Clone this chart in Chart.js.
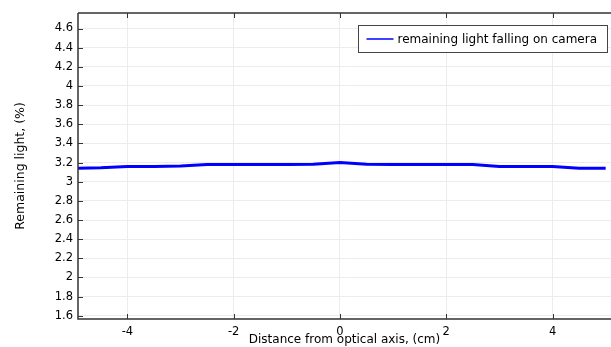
<!DOCTYPE html>
<html>
<head>
<meta charset="utf-8">
<script src="https://cdn.jsdelivr.net/npm/chart.js"></script>
<style>
  html, body { margin: 0; padding: 0; background: #fff; }
  canvas { display: block; }
</style>
</head>
<body>
<canvas id="lightChart" width="611" height="347"></canvas>
<script>
// distance from the optical axis (cm) and the share of light reaching the camera (%)
const distance = [-5, -4.5, -4, -3.5, -3, -2.5, -2, -1.5, -1, -0.5, 0, 0.5, 1, 1.5, 2, 2.5, 3, 3.5, 4, 4.5, 5];
const remaining = [3.14, 3.145, 3.16, 3.16, 3.165, 3.18, 3.18, 3.18, 3.18, 3.182, 3.2, 3.182, 3.18, 3.18, 3.18, 3.18, 3.16, 3.16, 3.16, 3.14, 3.14];
const xTickValues = [-4, -2, 0, 2, 4];
const yTickValues = [1.6, 1.8, 2, 2.2, 2.4, 2.6, 2.8, 3, 3.2, 3.4, 3.6, 3.8, 4, 4.2, 4.4, 4.6];
const seriesName = 'remaining light falling on camera';

const FONT = 'DejaVu Sans';
const AXIS_COLOR = '#333333';

// frame, inward ticks and the boxed legend
const framePlugin = {
  id: 'frame',
  afterDraw(chart) {
    const { ctx, chartArea: a, scales } = chart;
    ctx.save();
    ctx.strokeStyle = AXIS_COLOR;
    ctx.lineWidth = 1.5;
    ctx.beginPath();
    ctx.moveTo(a.left, a.top);
    ctx.lineTo(a.right, a.top);
    ctx.moveTo(a.left, a.top);
    ctx.lineTo(a.left, a.bottom);
    ctx.lineTo(a.right, a.bottom);
    ctx.stroke();

    ctx.lineWidth = 1;
    ctx.beginPath();
    xTickValues.forEach(v => {
      const px = Math.round(scales.x.getPixelForValue(v)) + 0.5;
      ctx.moveTo(px, a.bottom);
      ctx.lineTo(px, a.bottom - 5);
      ctx.moveTo(px, a.top);
      ctx.lineTo(px, a.top + 5);
    });
    yTickValues.forEach(v => {
      const py = Math.round(scales.y.getPixelForValue(v)) + 0.5;
      ctx.moveTo(a.left, py);
      ctx.lineTo(a.left + 5, py);
    });
    ctx.stroke();

    // legend box
    const bx = 358.5, by = 25.5, bw = 249, bh = 27;
    ctx.fillStyle = '#ffffff';
    ctx.fillRect(bx, by, bw, bh);
    ctx.strokeStyle = '#444444';
    ctx.lineWidth = 1;
    ctx.strokeRect(bx, by, bw, bh);
    ctx.strokeStyle = '#0000ff';
    ctx.lineWidth = 1.5;
    ctx.beginPath();
    ctx.moveTo(bx + 8, by + bh / 2);
    ctx.lineTo(bx + 35, by + bh / 2);
    ctx.stroke();
    ctx.fillStyle = '#000000';
    ctx.font = '12px "' + FONT + '"';
    ctx.textBaseline = 'middle';
    ctx.fillText(seriesName, bx + 39, by + bh / 2 + 0.5);
    ctx.restore();
  }
};

new Chart(document.getElementById('lightChart'), {
  type: 'line',
  data: {
    datasets: [{
      label: seriesName,
      data: distance.map((x, i) => ({ x, y: remaining[i] })),
      borderColor: '#0000ff',
      borderWidth: 3,
      pointRadius: 0,
      tension: 0,
      fill: false
    }]
  },
  options: {
    responsive: false,
    animation: false,
    layout: { padding: { left: 0, right: 0, top: 13, bottom: 0 } },
    plugins: {
      legend: { display: false },
      tooltip: { enabled: false }
    },
    scales: {
      x: {
        type: 'linear',
        min: -4.93,
        max: 5.1,
        afterBuildTicks: s => { s.ticks = xTickValues.map(v => ({ value: v })); },
        afterFit: s => { s.height = 28; },
        border: { display: false },
        grid: { color: '#ececec', lineWidth: 1, drawTicks: false },
        ticks: {
          padding: 6,
          color: '#000000',
          font: { family: FONT, size: 11.5 },
          maxRotation: 0,
          callback: v => String(v)
        },
        title: {
          display: true,
          text: 'Distance from optical axis, (cm)',
          color: '#000000',
          font: { family: FONT, size: 12 },
          padding: { top: 0, bottom: 0 }
        }
      },
      y: {
        min: 1.566,
        max: 4.762,
        afterBuildTicks: s => { s.ticks = yTickValues.map(v => ({ value: v })); },
        afterFit: s => { s.width = 78; },
        border: { display: false },
        grid: { color: '#ececec', lineWidth: 1, drawTicks: false },
        ticks: {
          padding: 5,
          color: '#000000',
          font: { family: FONT, size: 11.5 },
          callback: v => String(v)
        },
        title: {
          display: true,
          text: 'Remaining light, (%)',
          color: '#000000',
          font: { family: FONT, size: 12.5 },
          padding: { top: 13, bottom: 0 }
        }
      }
    }
  },
  plugins: [framePlugin]
});
</script>
</body>
</html>
